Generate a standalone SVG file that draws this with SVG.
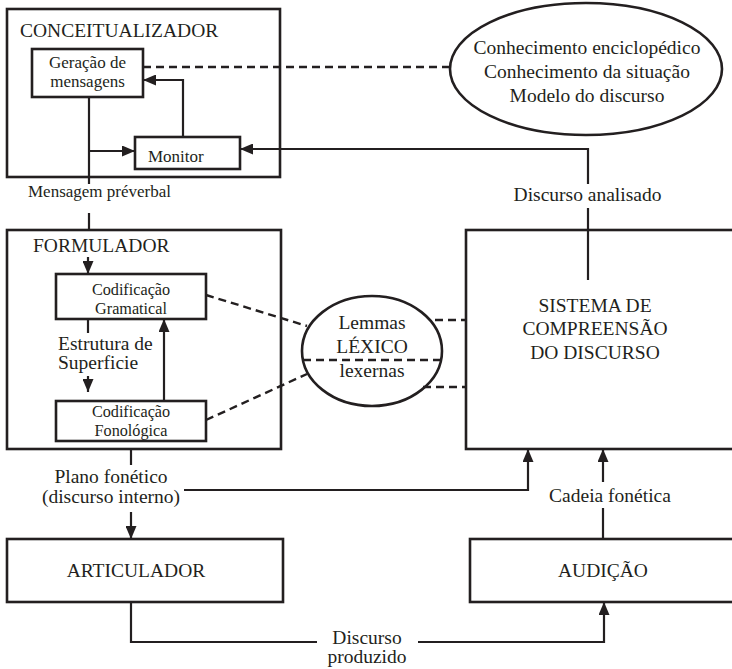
<svg xmlns="http://www.w3.org/2000/svg" width="732" height="669" viewBox="0 0 732 669">
<style>
text{font-family:"Liberation Serif","Times New Roman",serif;fill:#231f20;font-size:19.5px}
.s{font-size:17px}
.b{font-size:16.2px}
.c{text-anchor:middle}
.box{fill:none;stroke:#231f20;stroke-width:2.6}
.ln{fill:none;stroke:#231f20;stroke-width:2.2}
.ar{marker-end:url(#ah)}
.d{fill:none;stroke:#231f20;stroke-width:2.4;stroke-dasharray:8 5}
</style>
<defs>
<marker id="ah" markerUnits="userSpaceOnUse" markerWidth="13" markerHeight="11" refX="13" refY="5.5" orient="auto">
<path d="M0,0 L13,5.5 L0,11 z" fill="#231f20"/>
</marker>
</defs>
<rect width="732" height="669" fill="#fff"/>

<g id="conceitualizador">
<rect class="box" x="7" y="9" width="273" height="168"/>
<text x="20" y="37">CONCEITUALIZADOR</text>
</g>
<g id="geracao">
<rect class="box" x="32" y="49" width="111" height="48"/>
<text class="s c" x="87.5" y="68">Geração de</text>
<text class="s c" x="87.5" y="87">mensagens</text>
</g>
<g id="monitor">
<rect class="box" x="135" y="137" width="105" height="32"/>
<text class="s" x="148" y="162">Monitor</text>
</g>
<g id="conhecimento">
<ellipse class="box" cx="586" cy="69" rx="136" ry="66"/>
<text class="c" x="587" y="54">Conhecimento enciclopédico</text>
<text class="c" x="587" y="78">Conhecimento da situação</text>
<text class="c" x="587" y="102">Modelo do discurso</text>
</g>
<g id="formulador">
<rect class="box" x="7" y="230" width="274" height="219"/>
<text x="33" y="252">FORMULADOR</text>
</g>
<g id="gramatical">
<rect class="box" x="56" y="274" width="150" height="45"/>
<text class="b c" x="131" y="294.5">Codificação</text>
<text class="b c" x="131" y="313.5">Gramatical</text>
</g>
<g id="fonologica">
<rect class="box" x="56" y="401" width="150" height="40"/>
<text class="b c" x="131" y="417">Codificação</text>
<text class="b c" x="131" y="436">Fonológica</text>
</g>
<g id="lexico">
<ellipse class="box" cx="372" cy="351" rx="70" ry="55"/>
<text class="c" x="372" y="329">Lemmas</text>
<text class="c" x="372" y="353">LÉXICO</text>
<text class="c" x="372" y="377">lexernas</text>
</g>
<g id="sistema">
<rect class="box" x="466" y="230" width="270" height="219"/>
<text class="c" x="595" y="312">SISTEMA DE</text>
<text class="c" x="595" y="335">COMPREENSÃO</text>
<text class="c" x="595" y="359">DO DISCURSO</text>
</g>
<g id="articulador">
<rect class="box" x="7" y="539" width="276" height="63"/>
<text class="c" x="136" y="577">ARTICULADOR</text>
</g>
<g id="audicao">
<rect class="box" x="470" y="539" width="266" height="63"/>
<text class="c" x="603" y="577">AUDIÇÃO</text>
</g>

<g id="connectors">
<path class="ln" d="M89 97 V184 M89 213 V230"/>
<path class="ln ar" d="M88 257 V274"/>
<path class="ln ar" d="M89 151 H135"/>
<path class="ln ar" d="M183 137 V80 H143"/>
<path class="ln ar" d="M588 184 V149 H240"/>
<path class="ln" d="M588 208 V280"/>
<path class="d" d="M143 67 H450"/>
<path class="ln" d="M88 319 V333"/>
<path class="ln ar" d="M88 376 V392"/>
<path class="ln ar" d="M164 401 V319"/>
<path class="d" d="M206 295 L307 326"/>
<path class="d" d="M206 420 L307 374"/>
<path class="d" d="M303 360 H441"/>
<path class="d" d="M435 320 H466"/>
<path class="d" d="M423 387 H466"/>
<path class="ln" d="M131 449 V465"/>
<path class="ln ar" d="M131 512 V539"/>
<path class="ln ar" d="M184 490 H528 V449"/>
<path class="ln" d="M131 602 V642 H317"/>
<path class="ln ar" d="M418 642 H604 V602"/>
<path class="ln" d="M603 539 V508"/>
<path class="ln ar" d="M603 482 V449"/>
<text class="s" x="28" y="197">Mensagem préverbal</text>
<text class="c" x="587.5" y="201">Discurso analisado</text>
<text x="58" y="350">Estrutura de</text>
<text x="58" y="369">Superficie</text>
<text class="c" x="111" y="483">Plano fonético</text>
<text class="c" x="111" y="503">(discurso interno)</text>
<text class="c" x="610" y="502">Cadeia fonética</text>
<text class="c" x="367" y="644">Discurso</text>
<text class="c" x="367" y="663">produzido</text>
</g>
</svg>
